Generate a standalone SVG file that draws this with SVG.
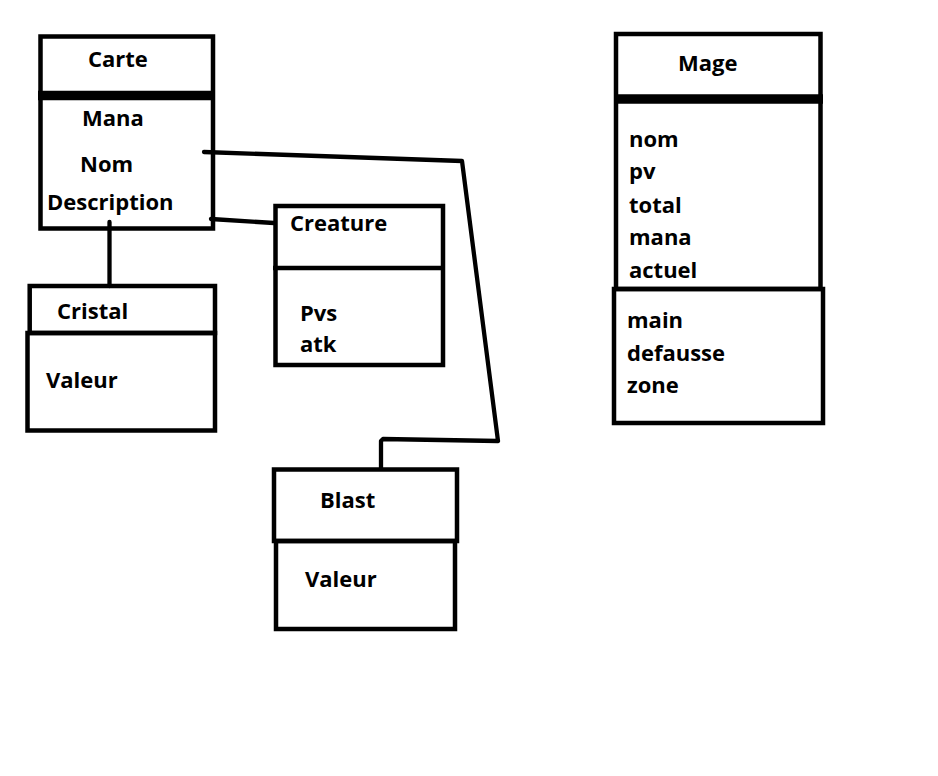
<svg xmlns="http://www.w3.org/2000/svg" width="938" height="776" viewBox="0 0 938 776">
<style>
.box{fill:none;stroke:#000;stroke-width:4.5}
.div{stroke:#000;stroke-width:4.5}
.thick{stroke:#000;stroke-width:9.5}
.conn{fill:none;stroke:#000;stroke-width:4.3;stroke-linecap:round;stroke-linejoin:round}
text{font-family:"Open Sans","Noto Sans","DejaVu Sans",sans-serif;font-weight:bold;font-size:22px;fill:#000}
</style>
<rect width="938" height="776" fill="#fff"/>
<g id="connectors">
<polyline class="conn" points="204,152 462,161 498,441 383,439 381,441 381,468"/>
<line class="conn" x1="211" y1="219" x2="274" y2="223"/>
<line class="conn" x1="109.5" y1="222" x2="109.5" y2="286"/>
</g>
<g id="carte">
<rect class="box" x="40.5" y="36.5" width="172.5" height="192"/>
<line class="thick" x1="38" y1="95.5" x2="215" y2="95.5"/>
<text x="88" y="67">Carte</text>
<text x="82" y="126">Mana</text>
<text x="80" y="172">Nom</text>
<text x="47" y="210">Description</text>
</g>
<g id="creature">
<rect class="box" x="275.5" y="206" width="167.5" height="159"/>
<line class="div" x1="273" y1="268" x2="445" y2="268"/>
<text x="290" y="231">Creature</text>
<text x="300" y="321">Pvs</text>
<text x="300" y="352">atk</text>
</g>
<g id="cristal">
<rect class="box" x="29.7" y="286" width="185.3" height="47"/>
<rect class="box" x="27.5" y="333" width="187.5" height="97.5"/>
<text x="57" y="319">Cristal</text>
<text x="46" y="388">Valeur</text>
</g>
<g id="mage">
<rect class="box" x="616" y="34" width="204.5" height="255"/>
<line class="thick" x1="614" y1="99" x2="823" y2="99"/>
<rect class="box" x="614" y="289" width="209" height="134"/>
<text x="678" y="71">Mage</text>
<text x="629" y="147">nom</text>
<text x="629" y="179">pv</text>
<text x="629" y="213">total</text>
<text x="629" y="245">mana</text>
<text x="629" y="278">actuel</text>
<text x="627" y="328">main</text>
<text x="627" y="361">defausse</text>
<text x="627" y="393">zone</text>
</g>
<g id="blast">
<rect class="box" x="274" y="469.5" width="183" height="71.5"/>
<rect class="box" x="276" y="541" width="179" height="88"/>
<text x="320" y="508">Blast</text>
<text x="305" y="587">Valeur</text>
</g>
</svg>
